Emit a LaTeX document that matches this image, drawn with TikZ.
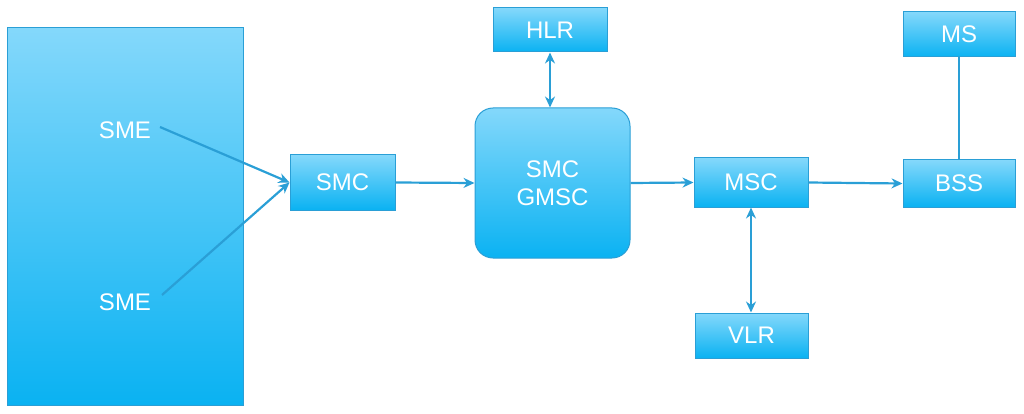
\documentclass[tikz,border=0pt]{standalone}
\usepackage{fontspec}
\setmainfont{Liberation Sans}
\usetikzlibrary{arrows.meta}
\definecolor{top}{HTML}{84D8FB}
\definecolor{bot}{HTML}{0AB2F2}
\definecolor{edge}{HTML}{2A9FD6}
\begin{document}
\begin{tikzpicture}[x=1pt,y=-1pt,
  box/.style={draw=edge,line width=1pt,top color=top,bottom color=bot,text=white,font=\fontsize{24}{28}\selectfont,inner sep=0pt},
  lbl/.style={text=white,font=\fontsize{24}{28}\selectfont},
  con/.style={draw=edge,line width=2.2pt,-{Stealth[length=11pt,width=10pt]}},
  bicon/.style={draw=edge,line width=2.2pt,{Stealth[length=11pt,width=10pt]}-{Stealth[length=11pt,width=10pt]}}]
\useasboundingbox (0,0) rectangle (1024,414);
\node[box,minimum width=236pt,minimum height=377pt] (big) at (125,216.5) {};
\node[lbl] (sme1) at (125,130) {SME};
\node[lbl] (sme2) at (125,302) {SME};
\node[box,minimum width=105pt,minimum height=55pt] (smc) at (342.5,182.5) {SMC};
\node[box,rounded corners=18pt,minimum width=155pt,minimum height=150pt,align=center] (gmsc) at (552.5,183) {SMC\\GMSC};
\node[box,minimum width=114pt,minimum height=44pt] (hlr) at (550,30) {HLR};
\node[box,minimum width=114pt,minimum height=49pt] (msc) at (751,182.5) {MSC};
\node[box,minimum width=113pt,minimum height=45pt] (vlr) at (751.5,335.5) {VLR};
\node[box,minimum width=112pt,minimum height=47pt] (bss) at (959,183.5) {BSS};
\node[box,minimum width=112pt,minimum height=45pt] (ms) at (959,34.5) {MS};
\coordinate (s1) at (160,127);
\coordinate (s2) at (162,295);
\draw[con] (s1) -- (smc.west);
\draw[con] (s2) -- (smc.west);
\draw[con] (smc.east) -- (gmsc.west);
\draw[con] (gmsc.east) -- (msc.west);
\draw[con] (msc.east) -- (bss.west);
\draw[bicon] (hlr.south) -- (gmsc.north -| hlr.south);
\draw[bicon] (msc.south) -- (vlr.north -| msc.south);
\draw[draw=edge,line width=2.2pt] (ms.south) -- (bss.north);
\end{tikzpicture}
\end{document}
